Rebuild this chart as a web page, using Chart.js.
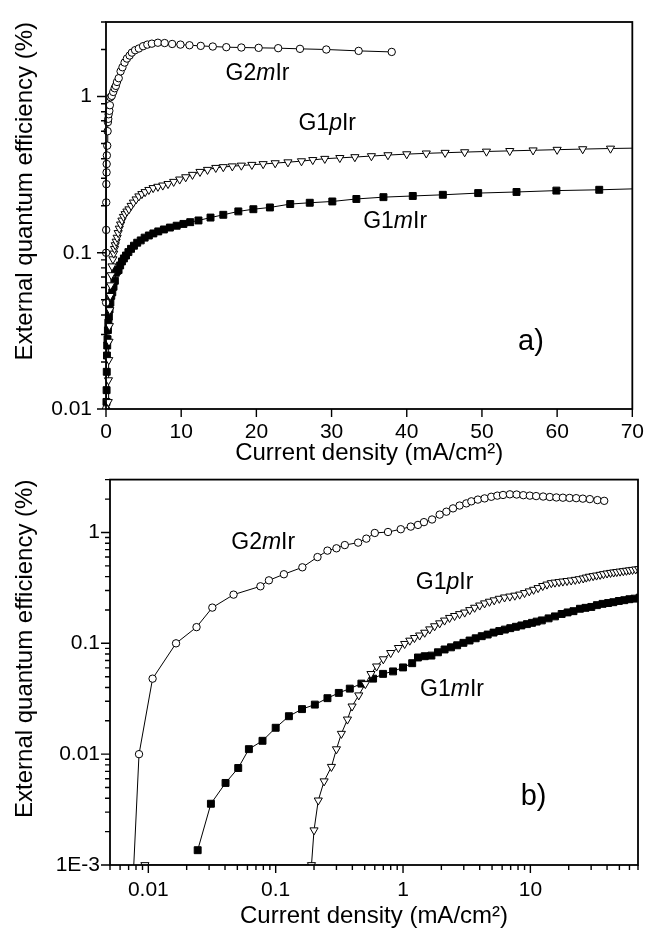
<!DOCTYPE html>
<html>
<head>
<meta charset="utf-8">
<script src="https://cdn.jsdelivr.net/npm/chart.js@4.4.1/dist/chart.umd.min.js"></script>
<style>
  html, body { margin: 0; padding: 0; background: #fff; }
  #wrap { position: relative; width: 647px; height: 931px; }
  canvas { position: absolute; left: 0; }
  #top-chart { top: 0; }
  #bottom-chart { top: 465px; }
</style>
</head>
<body>
<div id="wrap">
  <canvas id="top-chart" width="647" height="465"></canvas>
  <canvas id="bottom-chart" width="647" height="466"></canvas>
</div>
<script>
// measured points [current density mA/cm2, EQE %]
const g2mIr = [
  [0.0074, 0.0004], [0.00845, 0.01], [0.0108, 0.048], [0.0165, 0.1], [0.0239, 0.14],
  [0.0318, 0.21], [0.0467, 0.275], [0.0759, 0.327], [0.0885, 0.37], [0.116, 0.42],
  [0.162, 0.485], [0.213, 0.60], [0.255, 0.686], [0.30, 0.72], [0.349, 0.77],
  [0.444, 0.81], [0.515, 0.88], [0.60, 0.99], [0.762, 1.01], [0.96, 1.07],
  [1.15, 1.13], [1.31, 1.17], [1.46, 1.24], [1.69, 1.31], [1.94, 1.45],
  [2.19, 1.54], [2.47, 1.65], [2.78, 1.75], [3.14, 1.83], [3.44, 1.91],
  [3.87, 1.98], [4.37, 2.03], [4.93, 2.10], [5.5, 2.15], [6.1, 2.18],
  [6.9, 2.21], [7.8, 2.2], [8.8, 2.17], [9.9, 2.15], [11.1, 2.13],
  [12.6, 2.11], [14.2, 2.09], [16.0, 2.07], [18.0, 2.06], [20.3, 2.05],
  [22.9, 2.04], [25.8, 2.02], [29.3, 2.0], [33.6, 1.96], [38.0, 1.93]
];
const g1pIr = [
  [0.0094, 0.001], [0.191, 0.001], [0.200, 0.00206], [0.216, 0.00383], [0.240, 0.0057],
  [0.274, 0.0077], [0.300, 0.0111], [0.328, 0.0153], [0.366, 0.0206], [0.398, 0.027],
  [0.449, 0.034], [0.506, 0.043], [0.56, 0.053], [0.62, 0.062], [0.70, 0.072],
  [0.80, 0.082], [0.92, 0.091], [1.03, 0.099], [1.13, 0.106], [1.23, 0.112],
  [1.35, 0.118], [1.48, 0.125], [1.62, 0.134], [1.77, 0.143], [1.94, 0.152],
  [2.12, 0.161], [2.32, 0.170], [2.54, 0.177], [2.78, 0.184], [3.05, 0.190],
  [3.34, 0.200], [3.65, 0.210], [4.0, 0.220], [4.37, 0.230], [4.77, 0.238],
  [5.2, 0.245], [5.7, 0.253], [6.27, 0.260], [6.9, 0.265], [7.55, 0.270],
  [8.25, 0.276], [9.0, 0.285], [9.8, 0.295], [10.6, 0.305], [11.5, 0.316],
  [12.5, 0.330], [13.5, 0.340], [14.6, 0.350], [15.6, 0.354], [16.8, 0.358],
  [18.0, 0.362], [19.4, 0.366], [20.9, 0.370], [22.5, 0.375], [24.2, 0.380],
  [26.0, 0.386], [27.5, 0.393], [29.1, 0.40], [31.1, 0.405], [33.1, 0.41],
  [35.3, 0.416], [37.5, 0.422], [40.0, 0.428], [42.6, 0.433], [45.1, 0.437],
  [47.7, 0.441], [50.6, 0.445], [53.7, 0.449], [56.8, 0.453], [60.0, 0.457],
  [63.4, 0.461], [67.1, 0.465], [71.0, 0.468]
];
const g1mIr = [
  [0.0244, 0.00136], [0.031, 0.00357], [0.0404, 0.0055], [0.0508, 0.0075], [0.0616, 0.0111],
  [0.0788, 0.0132], [0.1, 0.0173], [0.127, 0.022], [0.161, 0.0255], [0.203, 0.028],
  [0.255, 0.032], [0.313, 0.0357], [0.382, 0.039], [0.471, 0.0433], [0.582, 0.048],
  [0.697, 0.053], [0.835, 0.0558], [1.0, 0.0606], [1.18, 0.0662], [1.31, 0.0745],
  [1.48, 0.0765], [1.67, 0.0775], [1.88, 0.083], [2.12, 0.088], [2.38, 0.092],
  [2.66, 0.096], [2.98, 0.101], [3.33, 0.106], [3.72, 0.111], [4.15, 0.116],
  [4.62, 0.120], [5.14, 0.125], [5.7, 0.129], [6.3, 0.133], [6.95, 0.137],
  [7.7, 0.141], [8.5, 0.145], [9.4, 0.149], [10.3, 0.153], [11.2, 0.157],
  [12.3, 0.161], [13.9, 0.168], [15.6, 0.175], [17.6, 0.184], [19.6, 0.190],
  [21.8, 0.195], [24.5, 0.205], [27.1, 0.209], [30.1, 0.213], [33.3, 0.221],
  [36.9, 0.227], [40.8, 0.231], [44.8, 0.235], [49.5, 0.241], [54.6, 0.245],
  [59.9, 0.250], [65.6, 0.253], [72.0, 0.258]
];

// tick values and labels
const topYTicks = [0.01, 0.1, 1];
const topYLabels = ['0.01', '0.1', '1'];
const bottomXTicks = [0.01, 0.1, 1, 10];
const bottomXLabels = ['0.01', '0.1', '1', '10'];
const bottomYTicks = [0.001, 0.01, 0.1, 1];
const bottomYLabels = ['1E-3', '0.01', '0.1', '1'];

const FONT = "'Liberation Sans', Arial, Helvetica, sans-serif";
const xTitle = 'Current density (mA/cm\u00B2)';
const yTitle = 'External quantum efficiency (%)';

function series(points, style) {
  return Object.assign({
    data: points.map(p => ({ x: p[0], y: p[1] })),
    showLine: true,
    borderColor: '#000',
    borderWidth: 1,
    pointBorderColor: '#000',
    pointBorderWidth: 1,
    pointHoverRadius: 0,
    clip: { left: 6, top: 0, right: 0, bottom: 0 }
  }, style);
}

function datasets() {
  return [
    series(g1pIr, { label: 'G1pIr', pointStyle: 'triangle', pointRotation: 180, pointRadius: 4.7, pointBackgroundColor: '#fff' }),
    series(g2mIr, { label: 'G2mIr', pointStyle: 'circle', pointRadius: 3.7, pointBackgroundColor: '#fff' }),
    series(g1mIr, { label: 'G1mIr', pointStyle: 'rect', pointRadius: 4.9, pointBackgroundColor: '#000' })
  ];
}

// minor ticks at 2..9 of every decade inside the range
function logMinors(min, max) {
  const out = [];
  let d = Math.pow(10, Math.floor(Math.log10(min)));
  while (d < max) {
    for (let k = 2; k <= 9; k++) {
      const v = k * d;
      if (v >= min && v <= max) out.push(v);
    }
    d *= 10;
  }
  return out;
}

// frame, outward ticks and curve labels
const decorPlugin = {
  id: 'decor',
  afterDraw(chart, args, opts) {
    const { ctx, chartArea: a, scales: { x, y } } = chart;
    ctx.save();
    ctx.strokeStyle = '#000';
    ctx.lineWidth = 1.8;
    ctx.strokeRect(a.left, a.top, a.right - a.left, a.bottom - a.top);

    ctx.lineWidth = 1.4;
    ctx.beginPath();
    opts.xMajor.forEach(v => {
      const px = x.getPixelForValue(v);
      ctx.moveTo(px, a.bottom); ctx.lineTo(px, a.bottom + 8);
    });
    (opts.xMinor || []).forEach(v => {
      const px = x.getPixelForValue(v);
      ctx.moveTo(px, a.bottom); ctx.lineTo(px, a.bottom + 5);
    });
    opts.yMajor.forEach(v => {
      const py = y.getPixelForValue(v);
      ctx.moveTo(a.left, py); ctx.lineTo(a.left - 9, py);
    });
    (opts.yMinor || []).forEach(v => {
      const py = y.getPixelForValue(v);
      ctx.moveTo(a.left, py); ctx.lineTo(a.left - 5, py);
    });
    ctx.stroke();

    ctx.fillStyle = '#000';
    ctx.textBaseline = 'alphabetic';
    ctx.textAlign = 'left';
    opts.labels.forEach(l => {
      let px = x.getPixelForValue(l.x);
      const py = y.getPixelForValue(l.y);
      l.parts.forEach((part, i) => {
        ctx.font = (i === 1 && l.parts.length === 3 ? 'italic ' : '') + l.size + 'px ' + FONT;
        ctx.fillText(part, px, py);
        px += ctx.measureText(part).width;
      });
    });
    ctx.restore();
  }
};

const tickFont = { family: FONT, size: 21 };
const titleFont = { family: FONT, size: 24, lineHeight: 1 };

function scaleBase(extra) {
  return Object.assign({
    border: { display: false },
    grid: { display: true, drawOnChartArea: false, drawTicks: true, tickColor: 'rgba(0,0,0,0)' }
  }, extra);
}

new Chart(document.getElementById('top-chart'), {
  type: 'scatter',
  data: { datasets: datasets() },
  options: {
    responsive: false,
    animation: false,
    events: [],
    layout: { padding: { top: 22, right: 12, left: 0, bottom: 0 } },
    plugins: {
      legend: { display: false },
      tooltip: { enabled: false },
      decor: {
        xMajor: [0, 10, 20, 30, 40, 50, 60, 70],
        yMajor: topYTicks,
        yMinor: logMinors(0.01, 3),
        labels: [
          { parts: ['G2', 'm', 'Ir'], x: 15.9, y: 1.28, size: 23 },
          { parts: ['G1', 'p', 'Ir'], x: 25.6, y: 0.61, size: 23 },
          { parts: ['G1', 'm', 'Ir'], x: 34.2, y: 0.145, size: 23 },
          { parts: ['a)'], x: 54.8, y: 0.024, size: 29 }
        ]
      }
    },
    scales: {
      x: scaleBase({
        type: 'linear', min: 0, max: 70,
        afterFit: s => { s.height = 56; },
        grid: { display: true, drawOnChartArea: false, tickLength: 8, tickColor: 'rgba(0,0,0,0)' },
        ticks: { stepSize: 10, color: '#000', font: tickFont, padding: 3, maxRotation: 0 },
        title: { display: true, text: xTitle, color: '#000', font: titleFont, padding: { top: 0, bottom: 0 } }
      }),
      y: scaleBase({
        type: 'logarithmic', min: 0.01, max: 3,
        afterFit: s => { s.width = 106; },
        afterBuildTicks: s => { s.ticks = topYTicks.map(v => ({ value: v })); },
        grid: { display: true, drawOnChartArea: false, tickLength: 10, tickColor: 'rgba(0,0,0,0)' },
        ticks: { autoSkip: false, color: '#000', font: tickFont, padding: 4, callback: (v, i) => topYLabels[i] },
        title: { display: true, text: yTitle, align: 'end', color: '#000', font: titleFont, padding: { top: 13, bottom: 0 } }
      })
    }
  },
  plugins: [decorPlugin]
});

new Chart(document.getElementById('bottom-chart'), {
  type: 'scatter',
  data: { datasets: datasets() },
  options: {
    responsive: false,
    animation: false,
    events: [],
    layout: { padding: { top: 13, right: 9, left: 0, bottom: 0 } },
    plugins: {
      legend: { display: false },
      tooltip: { enabled: false },
      decor: {
        xMajor: bottomXTicks,
        xMinor: logMinors(0.005, 70),
        yMajor: bottomYTicks,
        yMinor: logMinors(0.001, 3),
        labels: [
          { parts: ['G2', 'm', 'Ir'], x: 0.0448, y: 0.705, size: 23 },
          { parts: ['G1', 'p', 'Ir'], x: 1.26, y: 0.309, size: 23 },
          { parts: ['G1', 'm', 'Ir'], x: 1.36, y: 0.0333, size: 23 },
          { parts: ['b)'], x: 8.4, y: 0.00345, size: 29 }
        ]
      }
    },
    scales: {
      x: scaleBase({
        type: 'logarithmic', min: 0.005, max: 70,
        afterFit: s => { s.height = 66; },
        afterBuildTicks: s => { s.ticks = bottomXTicks.map(v => ({ value: v })); },
        grid: { display: true, drawOnChartArea: false, tickLength: 10, tickColor: 'rgba(0,0,0,0)' },
        ticks: { autoSkip: false, color: '#000', font: tickFont, padding: 3, maxRotation: 0, callback: (v, i) => bottomXLabels[i] },
        title: { display: true, text: xTitle, color: '#000', font: titleFont, padding: { top: 0, bottom: 3 } }
      }),
      y: scaleBase({
        type: 'logarithmic', min: 0.001, max: 3,
        afterFit: s => { s.width = 110; },
        afterBuildTicks: s => { s.ticks = bottomYTicks.map(v => ({ value: v })); },
        grid: { display: true, drawOnChartArea: false, tickLength: 8, tickColor: 'rgba(0,0,0,0)' },
        ticks: { autoSkip: false, color: '#000', font: tickFont, padding: 2, callback: (v, i) => bottomYLabels[i] },
        title: { display: true, text: yTitle, align: 'end', color: '#000', font: titleFont, padding: { top: 13, bottom: 0 } }
      })
    }
  },
  plugins: [decorPlugin]
});
</script>
</body>
</html>
